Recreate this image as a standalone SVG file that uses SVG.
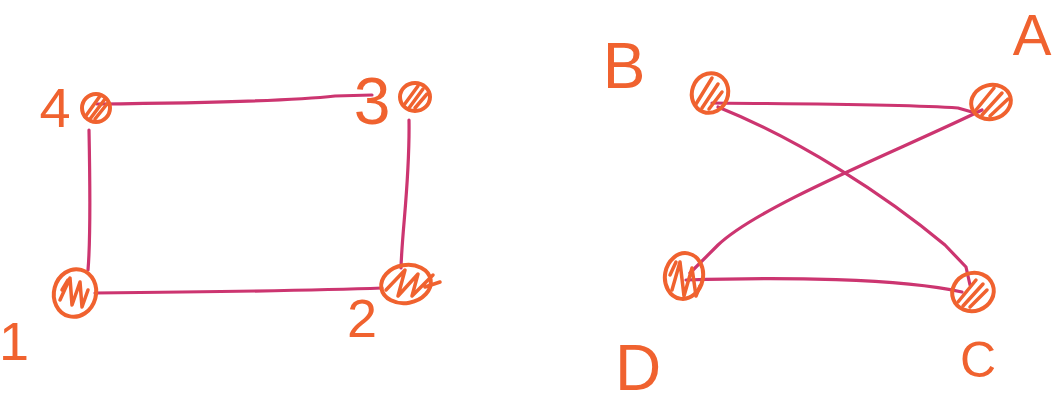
<svg xmlns="http://www.w3.org/2000/svg" width="1061" height="408" viewBox="0 0 1061 408">
<style>
.bg{fill:#fff}
.edge{fill:none;stroke:#CC3570;stroke-width:3.2;stroke-linecap:round;stroke-linejoin:round}
.blob{fill:none;stroke:#F0622F;stroke-width:4}
.hatch{fill:none;stroke:#F0622F;stroke-width:3.5;stroke-linecap:round;stroke-linejoin:round}
.lbl{font-family:"Liberation Sans",Arial,sans-serif;fill:#F0622F;text-anchor:middle}
</style>
<rect class="bg" width="1061" height="408"/>
<g id="connectors">
<path class="edge" d="M97,104 C200,103 300,100 335,96 L372,95"/>
<path class="edge" d="M409,120 C410,180 402,230 401,268"/>
<path class="edge" d="M95,293 C200,292 330,290 382,288"/>
<path class="edge" d="M89,130 C90,180 91,235 88,270"/>
<path class="edge" d="M712,103 C800,104 900,104 958,108 L972,112"/>
<path class="edge" d="M718,107 C800,140 885,195 945,245 L966,267 L970,285"/>
<path class="edge" d="M982,110 C900,150 760,205 718,245 L690,273"/>
<path class="edge" d="M686,280 C780,277 900,278 962,292"/>
</g>
<g id="node-4">
<ellipse class="blob" cx="96" cy="108" rx="14" ry="14"/>
<path class="hatch" d="M85,117 L100,96 M90,119 L105,99 M95,119 L107,104"/>
<text class="lbl" x="55" y="127" font-size="56">4</text>
</g>
<g id="node-3">
<ellipse class="blob" cx="415" cy="97" rx="15" ry="14"/>
<path class="hatch" d="M404,105 L418,86 M409,108 L423,89 M415,108 L427,94"/>
<text class="lbl" x="372" y="124" font-size="66">3</text>
</g>
<g id="node-1">
<ellipse class="blob" cx="75" cy="293" rx="21" ry="24" transform="rotate(15 75 293)"/>
<path class="hatch" d="M60,300 L70,278 L72,305 L80,282 L82,307 L88,290 M62,290 L68,280"/>
<text class="lbl" x="14" y="360" font-size="54">1</text>
</g>
<g id="node-2">
<ellipse class="blob" cx="406" cy="284" rx="25" ry="19" transform="rotate(-10 406 284)"/>
<path class="hatch" d="M386,290 L405,270 L398,296 L418,274 L412,296 L428,280 L433,275 M425,287 L440,282"/>
<text class="lbl" x="362" y="337" font-size="54">2</text>
</g>
<g id="node-B">
<ellipse class="blob" cx="710" cy="93" rx="18" ry="20" transform="rotate(20 710 93)"/>
<path class="hatch" d="M696,104 L712,78 M702,108 L718,84 M709,109 L722,92"/>
<text class="lbl" x="624" y="88" font-size="64">B</text>
</g>
<g id="node-A">
<ellipse class="blob" cx="991" cy="102" rx="20" ry="17" transform="rotate(-15 991 102)"/>
<path class="hatch" d="M976,110 L994,88 M982,115 L1002,93 M990,116 L1008,99"/>
<text class="lbl" x="1032" y="55" font-size="58">A</text>
</g>
<g id="node-D">
<ellipse class="blob" cx="684" cy="276" rx="19" ry="23" transform="rotate(10 684 276)"/>
<path class="hatch" d="M672,290 L680,262 L684,296 L692,268 L696,296 L700,286 M670,275 L676,262"/>
<text class="lbl" x="638" y="390" font-size="64">D</text>
</g>
<g id="node-C">
<ellipse class="blob" cx="973" cy="292" rx="21" ry="19" transform="rotate(-20 973 292)"/>
<path class="hatch" d="M958,302 L976,280 M963,306 L983,284 M970,307 L987,290"/>
<text class="lbl" x="978" y="377" font-size="50">C</text>
</g>
</svg>
